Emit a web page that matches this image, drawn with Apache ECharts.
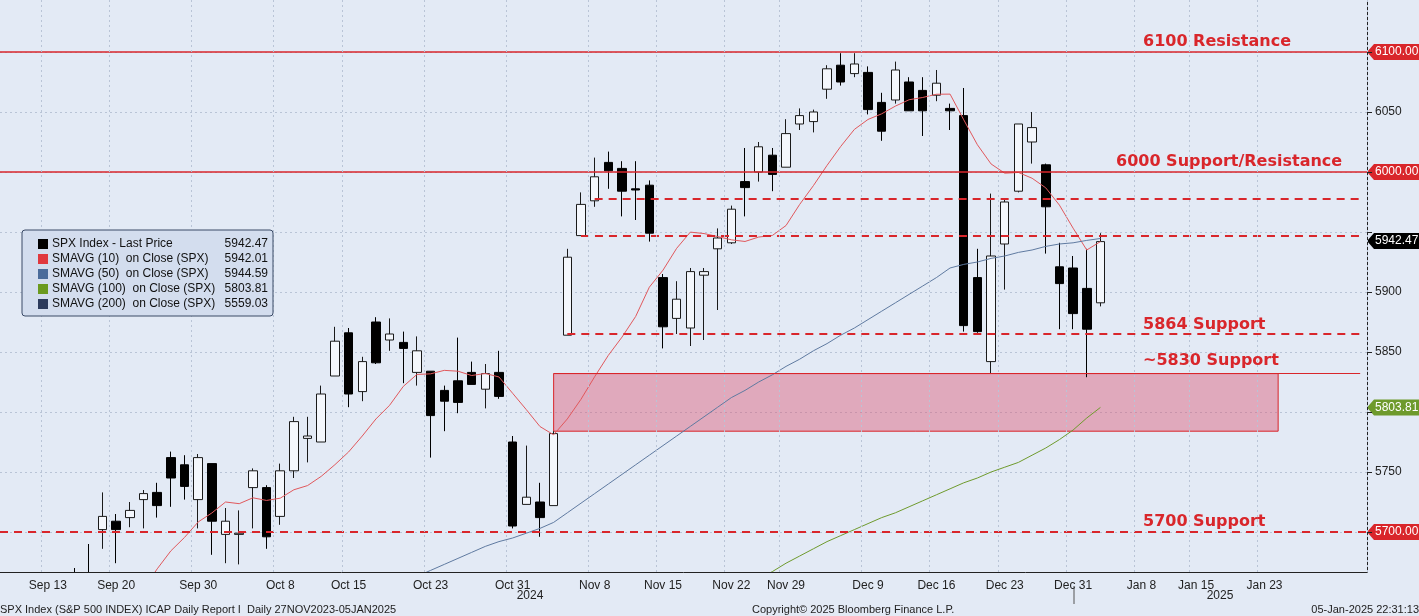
<!DOCTYPE html>
<html><head><meta charset="utf-8">
<script src="https://cdn.jsdelivr.net/npm/echarts@6/dist/echarts.min.js"></script>
<style>html,body{margin:0;padding:0;background:#e3eaf5}#c{width:1419px;height:616px}</style>
</head><body><div id="c"></div>
<script>
const categories = ["Sep 10","Sep 11","Sep 12","Sep 13","Sep 16","Sep 17","Sep 18","Sep 19","Sep 20","Sep 23","Sep 24","Sep 25","Sep 26","Sep 27","Sep 30",
"Oct 1","Oct 2","Oct 3","Oct 4","Oct 7","Oct 8","Oct 9","Oct 10","Oct 11","Oct 14","Oct 15","Oct 16","Oct 17","Oct 18","Oct 21","Oct 22","Oct 23","Oct 24","Oct 25","Oct 28","Oct 29","Oct 30","Oct 31",
"Nov 1","Nov 4","Nov 5","Nov 6","Nov 7","Nov 8","Nov 11","Nov 12","Nov 13","Nov 14","Nov 15","Nov 18","Nov 19","Nov 20","Nov 21","Nov 22","Nov 25","Nov 26","Nov 27","Nov 29",
"Dec 2","Dec 3","Dec 4","Dec 5","Dec 6","Dec 9","Dec 10","Dec 11","Dec 12","Dec 13","Dec 16","Dec 17","Dec 18","Dec 19","Dec 20","Dec 23","Dec 24","Dec 26","Dec 27","Dec 30","Dec 31",
"Jan 2","Jan 3","Jan 6","Jan 7","Jan 8","Jan 10","Jan 13","Jan 14","Jan 15","Jan 16","Jan 17","Jan 21","Jan 22","Jan 23","Jan 24","Jan 27","Jan 28","Jan 29","Jan 30","Jan 31","Feb 3"];
const tickLabels = ["Sep 13","Sep 20","Sep 30","Oct 8","Oct 15","Oct 23","Oct 31","Nov 8","Nov 15","Nov 22","Nov 29","Dec 9","Dec 16","Dec 23","Dec 31","Jan 8","Jan 15","Jan 23"];
const openP = [5490,5496,5557,5604,5616,5655,5641,5702,5709,5712,5727,5733,5762,5756,5727,5757,5698,5698,5737,5737,5713,5751,5778,5775,5830,5866,5817,5875,5860,5858,5833,5834,5818,5826,5833,5819,5833,5775,5723,5725,5722,5864,5947,5976,6008,6003,5986,5989,5912,5878,5870,5914,5936,5941,5992,6000,6014,6004,6040,6042,6069,6089,6082,6083,6058,6060,6075,6068,6064,6053,6047,5912,5842,5940,5984,6025,6006,5921,5920,5903,5891];
const closeP = [5495,5554,5595,5626,5633,5634,5618,5713,5702,5718,5732,5722,5745,5738,5762,5709,5709,5699,5751,5696,5751,5792,5780,5815,5859,5815,5842,5841,5865,5853,5851,5797,5809,5808,5823,5832,5813,5705,5729,5712,5782,5929,5973,5996,6001,5984,5985,5949,5871,5894,5917,5917,5945,5969,5987,6021,5998,6032,6047,6050,6086,6075,6090,6052,6034,6085,6051,6051,6074,6051,5872,5867,5930,5975,6040,6037,5971,5907,5882,5869,5942];
const highP = [5497,5560,5600,5636,5637,5670,5690,5733,5715,5725,5735,5741,5767,5764,5765,5757,5720,5718,5753,5739,5757,5796,5796,5822,5871,5870,5846,5879,5878,5867,5863,5834,5822,5862,5842,5840,5851,5780,5772,5741,5784,5936,5983,6012,6017,6009,6009,5993,5915,5909,5920,5920,5953,5972,6020,6025,6020,6044,6053,6052,6089,6099,6099,6088,6066,6092,6079,6079,6085,6057,6070,5936,5982,5978,6040,6050,6007,5941,5930,5936,5949];
const lowP = [5442,5406,5535,5601,5604,5614,5615,5686,5674,5704,5703,5712,5721,5727,5703,5681,5674,5673,5703,5686,5706,5745,5758,5775,5830,5804,5809,5840,5851,5824,5822,5762,5784,5799,5823,5803,5811,5703,5723,5696,5722,5864,5947,5971,5986,5963,5960,5942,5853,5865,5855,5860,5885,5940,5963,5992,5984,6004,6035,6033,6061,6072,6079,6048,6026,6057,6051,6030,6059,6035,5867,5866,5832,5902,5983,6007,5932,5869,5869,5829,5888];
const sma10 = ['-','-','-','-','-','-','-','-','-',5628.8,5652.5,5669.3,5684.3,5695.5,5708.4,5715.9,5725.0,5723.6,5728.5,5726.3,5728.2,5735.2,5738.7,5746.4,5756.1,5766.7,5780.0,5794.2,5805.6,5821.3,5831.3,5831.8,5834.7,5834.0,5830.4,5832.1,5829.2,5815.6,5802.0,5787.9,5781.0,5794.2,5810.6,5829.4,5847.2,5862.4,5879.6,5904.0,5918.2,5936.4,5949.9,5948.7,5946.2,5943.5,5942.1,5945.8,5947.1,5955.4,5973.0,5988.6,6005.5,6021.3,6035.5,6043.8,6048.5,6054.9,6060.2,6062.1,6064.8,6064.9,6043.5,6022.7,6006.7,5999.0,5999.6,5994.8,5986.8,5972.4,5953.2,5935.0,5942.01];
const sma50 = ['-','-','-','-','-','-','-','-','-','-','-','-','-','-','-','-','-','-','-','-','-','-','-','-','-','-','-',5650,5654,5658,5663,5668,5673,5678,5683,5688,5692,5695,5699,5703,5708,5716,5724,5732,5740,5748,5756,5764,5772,5780,5788,5796,5804,5812,5818,5825,5831,5838,5844,5851,5857,5864,5870,5877,5884,5891,5898,5905,5912,5920,5923,5925,5928,5930,5933,5935,5938,5940,5941,5943,5944.59];
const sma100 = ['-','-','-','-','-','-','-','-','-','-','-','-','-','-','-','-','-','-','-','-','-','-','-','-','-','-','-','-','-','-','-','-','-','-','-','-','-','-','-','-','-','-','-','-','-','-','-','-','-','-','-','-','-','-','-',5661,5667,5674,5680,5686,5692,5697,5702,5707,5712,5716,5721,5726,5731,5736,5741,5745,5750,5754,5758,5764,5770,5777,5785,5795,5803.81];
const axisValues = [5750,5850,5900,6050];
const levels = {r6100:6100, s6000:6000, d5978:5978, d5947:5947, s5864:5865, s5830:5832, zoneLow:5784, s5700:5700};

const chart = echarts.init(document.getElementById('c'));
const candles = openP.map((o,i)=>[o,closeP[i],lowP[i],highP[i]]);
const RED = '#d9262b';
const lastIdx = categories.length-1;
function hline(y, from, type, width){ return [{coord:[from,y],lineStyle:{type:type,width:width,color:RED}},{coord:[lastIdx,y]}]; }
function fline(y, type, width){ return {yAxis:y,lineStyle:{type:type,width:width,color:RED}}; }
const isTick = (i)=> tickLabels.indexOf(categories[i])>=0;
const nar = '"Liberation Sans Narrow","Liberation Sans",Arial,sans-serif';
chart.setOption({
  animation:false,
  backgroundColor:'#e3eaf5',
  grid:{left:-6,right:52,top:0,bottom:44},
  xAxis:{type:'category',data:categories,boundaryGap:true,z:20,
    axisLine:{lineStyle:{color:'#222'}},
    axisTick:{interval:0,length:4,lineStyle:{color:'#222'}},
    axisLabel:{interval:(i)=>isTick(i),color:'#222',fontSize:12,fontFamily:nar,margin:8},
    splitLine:{show:true,interval:(i)=>isTick(i),lineStyle:{color:'#b9c4d6',type:[2,3]}}},
  yAxis:{type:'value',position:'right',min:5666.67,max:6143.33,
    axisLine:{show:true,lineStyle:{color:'#222'}},
    axisTick:{show:true,length:5,customValues:[5700,5750,5800,5850,5900,5950,6000,6050,6100],lineStyle:{color:'#222'}},
    axisLabel:{customValues:axisValues,color:'#222',fontSize:12,fontFamily:nar,margin:8,formatter:v=>String(v)},
    splitLine:{show:true,lineStyle:{color:'#b9c4d6',type:[2,3]}}},
  series:[
    {type:'candlestick',data:candles,barWidth:9,clip:true,
     itemStyle:{color:'#f4f7fc',color0:'#000',borderColor:'#1a1a1a',borderColor0:'#000',borderWidth:1},
     markArea:{silent:true,itemStyle:{color:'rgba(220,90,120,0.45)',borderColor:'#d9262b',borderWidth:1},
       data:[[{coord:[40,levels.s5830]},{coord:[93,levels.zoneLow]}]]},
     markLine:{silent:true,symbol:'none',label:{show:false},
       data:[fline(levels.r6100,'solid',1.5),fline(levels.s6000,'solid',1.5),
             hline(levels.d5978,43,[8,6],2),hline(levels.d5947,42,[8,6],2),
             hline(levels.s5864,41,[8,6],2),hline(levels.s5830,40,'solid',1.2),
             fline(levels.s5700,[8,6],2)]}},
    {type:'line',data:sma10,symbol:'none',lineStyle:{color:'#e0585c',width:1},z:3},
    {type:'line',data:sma50,symbol:'none',lineStyle:{color:'#5f7aa0',width:1},z:3},
    {type:'line',data:sma100,symbol:'none',lineStyle:{color:'#6e9a2c',width:1},z:3}
  ]
});
const py = v => chart.convertToPixel({yAxisIndex:0}, v);
function badge(v, txt, bg, fg){
  const y = py(v);
  return {type:'group',z:30,children:[
    {type:'polygon',shape:{points:[[1367,y],[1374,y-8],[1419,y-8],[1419,y+8],[1374,y+8]]},style:{fill:bg}},
    {type:'text',x:1375,y:y,style:{text:txt,fill:fg,font:'12px '+nar,verticalAlign:'middle'}}]};
}
const lbl = (x,v,t)=>({type:'text',z:30,x:x,y:py(v)-2,style:{text:t,fill:RED,font:'bold 16px "DejaVu Sans",Verdana,sans-serif',textVerticalAlign:'bottom'}});
const legendRows = [['#000','SPX Index - Last Price','5942.47'],['#e0383e','SMAVG (10)  on Close (SPX)','5942.01'],['#4a6b9a','SMAVG (50)  on Close (SPX)','5944.59'],['#6b9a1f','SMAVG (100)  on Close (SPX)','5803.81'],['#2c3b5c','SMAVG (200)  on Close (SPX)','5559.03']];
const legendChildren = [{type:'rect',z:30,shape:{x:22,y:230,width:251,height:86,r:3},style:{fill:'#d3ddee',stroke:'#3a4a66',lineWidth:1}}];
legendRows.forEach((r,i)=>{const y=244+i*15;
  legendChildren.push({type:'rect',z:31,shape:{x:38,y:y-5,width:10,height:10},style:{fill:r[0],stroke:null}});
  legendChildren.push({type:'text',z:31,x:52,y:y,style:{text:r[1],fill:'#111',font:'12px '+nar,verticalAlign:'middle'}});
  legendChildren.push({type:'text',z:31,x:268,y:y,style:{text:r[2],fill:'#111',font:'12px '+nar,verticalAlign:'middle',align:'right'}});
});
chart.setOption({graphic:[
  {type:'rect',z:10,shape:{x:0,y:573,width:1366,height:43},style:{fill:'#e3eaf5'}},
  lbl(1143,6100,'6100 Resistance'), lbl(1116,6000,'6000 Support/Resistance'),
  lbl(1143,5864,'5864 Support'), lbl(1143,5834,'~5830 Support'), lbl(1143,5700,'5700 Support'),
  badge(6100,'6100.00','#d9262b','#fff'), badge(6000,'6000.00','#d9262b','#fff'),
  badge(5942.47,'5942.47','#000','#fff'), badge(5803.81,'5803.81','#6e9a2c','#fff'),
  badge(5700,'5700.00','#d9262b','#fff'),
  {type:'group',z:30,children:legendChildren},
  {type:'text',z:30,x:530,y:596,style:{text:'2024',fill:'#222',font:'12px '+nar,align:'center',verticalAlign:'middle'}},
  {type:'text',z:30,x:1220,y:596,style:{text:'2025',fill:'#222',font:'12px '+nar,align:'center',verticalAlign:'middle'}},
  {type:'line',z:30,shape:{x1:1074,y1:586,x2:1074,y2:604},style:{stroke:'#555',lineWidth:1}},
  {type:'text',z:30,x:0,y:610,style:{text:'SPX Index (S&P 500 INDEX) ICAP Daily Report I  Daily 27NOV2023-05JAN2025',fill:'#222',font:'11px '+nar,verticalAlign:'middle'}},
  {type:'text',z:30,x:752,y:610,style:{text:'Copyright© 2025 Bloomberg Finance L.P.',fill:'#222',font:'11px '+nar,verticalAlign:'middle'}},
  {type:'text',z:30,x:1419,y:610,style:{text:'05-Jan-2025 22:31:13',fill:'#222',font:'11px '+nar,align:'right',verticalAlign:'middle'}}
]});
</script></body></html>
